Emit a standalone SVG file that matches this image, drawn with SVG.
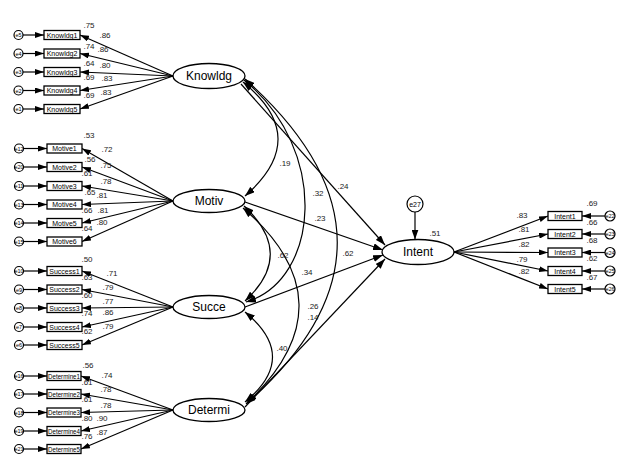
<svg xmlns="http://www.w3.org/2000/svg" width="627" height="470" viewBox="0 0 627 470">
<style>
.bg{fill:#fff}
.lat{fill:#fff;stroke:#000;stroke-width:1.3}
.box{fill:#fff;stroke:#000;stroke-width:1.3}
.err{fill:#fff;stroke:#000;stroke-width:1.2}
.ln{fill:none;stroke:#000;stroke-width:1.2}
.lt{font-family:"Liberation Sans",Arial,sans-serif;font-size:12px;text-anchor:middle;fill:#000}
.bt{font-family:"Liberation Sans",Arial,sans-serif;font-size:7px;text-anchor:middle;fill:#000}
.et{font-family:"Liberation Sans",Arial,sans-serif;font-size:5.5px;text-anchor:middle;fill:#000}
.nt{font-family:"Liberation Sans",Arial,sans-serif;font-size:8px;text-anchor:middle;fill:#222}
</style>
<defs>
<marker id="big" viewBox="0 0 10 7" refX="10" refY="3.5" markerWidth="10" markerHeight="7" markerUnits="userSpaceOnUse" orient="auto-start-reverse"><path d="M0,0 L10,3.5 L0,7 z" fill="#000"/></marker>
<marker id="sm" viewBox="0 0 9 6" refX="9" refY="3" markerWidth="9" markerHeight="6" markerUnits="userSpaceOnUse" orient="auto"><path d="M0,0 L9,3 L0,6 z" fill="#000"/></marker>
</defs>
<rect class="bg" x="0" y="0" width="627" height="470"/>

<g id="connectors">
<line class="ln" x1="173" y1="76" x2="80" y2="35" marker-end="url(#sm)"/>
<line class="ln" x1="173" y1="76" x2="80" y2="53.5" marker-end="url(#sm)"/>
<line class="ln" x1="173" y1="76" x2="80" y2="72" marker-end="url(#sm)"/>
<line class="ln" x1="173" y1="76" x2="80" y2="90.5" marker-end="url(#sm)"/>
<line class="ln" x1="173" y1="76" x2="80" y2="109" marker-end="url(#sm)"/>
<line class="ln" x1="173" y1="201" x2="82" y2="148.5" marker-end="url(#sm)"/>
<line class="ln" x1="173" y1="201" x2="82" y2="167" marker-end="url(#sm)"/>
<line class="ln" x1="173" y1="201" x2="82" y2="186" marker-end="url(#sm)"/>
<line class="ln" x1="173" y1="201" x2="82" y2="204.5" marker-end="url(#sm)"/>
<line class="ln" x1="173" y1="201" x2="82" y2="223" marker-end="url(#sm)"/>
<line class="ln" x1="173" y1="201" x2="82" y2="241.5" marker-end="url(#sm)"/>
<line class="ln" x1="173" y1="307" x2="82" y2="271" marker-end="url(#sm)"/>
<line class="ln" x1="173" y1="307" x2="82" y2="289.5" marker-end="url(#sm)"/>
<line class="ln" x1="173" y1="307" x2="82" y2="308" marker-end="url(#sm)"/>
<line class="ln" x1="173" y1="307" x2="82" y2="327" marker-end="url(#sm)"/>
<line class="ln" x1="173" y1="307" x2="82" y2="345" marker-end="url(#sm)"/>
<line class="ln" x1="173" y1="410" x2="81" y2="376" marker-end="url(#sm)"/>
<line class="ln" x1="173" y1="410" x2="81" y2="394" marker-end="url(#sm)"/>
<line class="ln" x1="173" y1="410" x2="81" y2="412.5" marker-end="url(#sm)"/>
<line class="ln" x1="173" y1="410" x2="81" y2="431" marker-end="url(#sm)"/>
<line class="ln" x1="173" y1="410" x2="81" y2="449" marker-end="url(#sm)"/>
<line class="ln" x1="454" y1="252" x2="548" y2="216" marker-end="url(#sm)"/>
<line class="ln" x1="454" y1="252" x2="548" y2="234" marker-end="url(#sm)"/>
<line class="ln" x1="454" y1="252" x2="548" y2="252.5" marker-end="url(#sm)"/>
<line class="ln" x1="454" y1="252" x2="548" y2="271" marker-end="url(#sm)"/>
<line class="ln" x1="454" y1="252" x2="548" y2="289" marker-end="url(#sm)"/>
<line class="ln" x1="23" y1="35" x2="44" y2="35" marker-end="url(#sm)"/>
<line class="ln" x1="23" y1="53.5" x2="44" y2="53.5" marker-end="url(#sm)"/>
<line class="ln" x1="23" y1="72" x2="44" y2="72" marker-end="url(#sm)"/>
<line class="ln" x1="23" y1="90.5" x2="44" y2="90.5" marker-end="url(#sm)"/>
<line class="ln" x1="23" y1="109" x2="44" y2="109" marker-end="url(#sm)"/>
<line class="ln" x1="24" y1="148.5" x2="47" y2="148.5" marker-end="url(#sm)"/>
<line class="ln" x1="24" y1="167" x2="47" y2="167" marker-end="url(#sm)"/>
<line class="ln" x1="24" y1="186" x2="47" y2="186" marker-end="url(#sm)"/>
<line class="ln" x1="24" y1="204.5" x2="47" y2="204.5" marker-end="url(#sm)"/>
<line class="ln" x1="24" y1="223" x2="47" y2="223" marker-end="url(#sm)"/>
<line class="ln" x1="24" y1="241.5" x2="47" y2="241.5" marker-end="url(#sm)"/>
<line class="ln" x1="24" y1="271" x2="47" y2="271" marker-end="url(#sm)"/>
<line class="ln" x1="24" y1="289.5" x2="47" y2="289.5" marker-end="url(#sm)"/>
<line class="ln" x1="24" y1="308" x2="47" y2="308" marker-end="url(#sm)"/>
<line class="ln" x1="24" y1="327" x2="47" y2="327" marker-end="url(#sm)"/>
<line class="ln" x1="24" y1="345" x2="47" y2="345" marker-end="url(#sm)"/>
<line class="ln" x1="24" y1="376" x2="47" y2="376" marker-end="url(#sm)"/>
<line class="ln" x1="24" y1="394" x2="47" y2="394" marker-end="url(#sm)"/>
<line class="ln" x1="24" y1="412.5" x2="47" y2="412.5" marker-end="url(#sm)"/>
<line class="ln" x1="24" y1="431" x2="47" y2="431" marker-end="url(#sm)"/>
<line class="ln" x1="24" y1="449" x2="47" y2="449" marker-end="url(#sm)"/>
<line class="ln" x1="605" y1="216" x2="582" y2="216" marker-end="url(#sm)"/>
<line class="ln" x1="605" y1="234" x2="582" y2="234" marker-end="url(#sm)"/>
<line class="ln" x1="605" y1="252.5" x2="582" y2="252.5" marker-end="url(#sm)"/>
<line class="ln" x1="605" y1="271" x2="582" y2="271" marker-end="url(#sm)"/>
<line class="ln" x1="605" y1="289" x2="582" y2="289" marker-end="url(#sm)"/>
<line class="ln" x1="415" y1="212" x2="415" y2="239.5" marker-end="url(#big)"/>
<line class="ln" x1="241" y1="84" x2="385" y2="245" marker-end="url(#big)"/>
<line class="ln" x1="245" y1="202" x2="383" y2="250" marker-end="url(#big)"/>
<line class="ln" x1="245" y1="307" x2="383" y2="255" marker-end="url(#big)"/>
<line class="ln" x1="245" y1="407" x2="385" y2="259" marker-end="url(#big)"/>
<path class="ln" d="M243,82 Q312,138 245,196" marker-start="url(#big)" marker-end="url(#big)"/>
<path class="ln" d="M244,80 C330,150 320,280 246,302" marker-start="url(#big)" marker-end="url(#big)"/>
<path class="ln" d="M245,79 Q429,243 246,404" marker-start="url(#big)" marker-end="url(#big)"/>
<path class="ln" d="M244,206 Q296,254 245,301" marker-start="url(#big)" marker-end="url(#big)"/>
<path class="ln" d="M243,208 Q353,303 247,403" marker-start="url(#big)" marker-end="url(#big)"/>
<path class="ln" d="M245,312 Q300,357 245,402" marker-start="url(#big)" marker-end="url(#big)"/>
</g>

<g id="Knowldg"><ellipse class="lat" cx="209" cy="76" rx="36" ry="12.5"/><text class="lt" x="209" y="80">Knowldg</text></g>
<g id="Motiv"><ellipse class="lat" cx="209" cy="201" rx="36" ry="11.5"/><text class="lt" x="209" y="205">Motiv</text></g>
<g id="Succe"><ellipse class="lat" cx="209" cy="307" rx="36" ry="11.5"/><text class="lt" x="209" y="311">Succe</text></g>
<g id="Determi"><ellipse class="lat" cx="209" cy="410" rx="36" ry="11.5"/><text class="lt" x="209" y="414">Determi</text></g>
<g id="Intent"><ellipse class="lat" cx="418" cy="252" rx="36" ry="12.5"/><text class="lt" x="418" y="256">Intent</text></g>
<g id="e27"><circle class="err" cx="415" cy="204" r="8"/><text class="bt" x="415" y="206.5">e27</text></g>

<g id="knowldg-indicators">
<rect class="box" x="44" y="30.5" width="36" height="9"/><text class="bt" x="62" y="37.5">Knowldg1</text>
<rect class="box" x="44" y="49" width="36" height="9"/><text class="bt" x="62" y="56">Knowldg2</text>
<rect class="box" x="44" y="67.5" width="36" height="9"/><text class="bt" x="62" y="74.5">Knowldg3</text>
<rect class="box" x="44" y="86" width="36" height="9"/><text class="bt" x="62" y="93">Knowldg4</text>
<rect class="box" x="44" y="104.5" width="36" height="9"/><text class="bt" x="62" y="111.5">Knowldg5</text>
<circle class="err" cx="18.5" cy="35" r="4.5"/><text class="et" x="18.5" y="37">e5</text>
<circle class="err" cx="18.5" cy="53.5" r="4.5"/><text class="et" x="18.5" y="55.5">e4</text>
<circle class="err" cx="18.5" cy="72" r="4.5"/><text class="et" x="18.5" y="74">e3</text>
<circle class="err" cx="18.5" cy="90.5" r="4.5"/><text class="et" x="18.5" y="92.5">e2</text>
<circle class="err" cx="18.5" cy="109" r="4.5"/><text class="et" x="18.5" y="111">e1</text>
</g>

<g id="motiv-indicators">
<rect class="box" x="47" y="144" width="35" height="9"/><text class="bt" x="64.5" y="151">Motive1</text>
<rect class="box" x="47" y="162.5" width="35" height="9"/><text class="bt" x="64.5" y="169.5">Motive2</text>
<rect class="box" x="47" y="181.5" width="35" height="9"/><text class="bt" x="64.5" y="188.5">Motive3</text>
<rect class="box" x="47" y="200" width="35" height="9"/><text class="bt" x="64.5" y="207">Motive4</text>
<rect class="box" x="47" y="218.5" width="35" height="9"/><text class="bt" x="64.5" y="225.5">Motive5</text>
<rect class="box" x="47" y="237" width="35" height="9"/><text class="bt" x="64.5" y="244">Motive6</text>
<circle class="err" cx="19" cy="148.5" r="4.5"/><text class="et" x="19" y="150.5">e12</text>
<circle class="err" cx="19" cy="167" r="4.5"/><text class="et" x="19" y="169">e20</text>
<circle class="err" cx="19" cy="186" r="4.5"/><text class="et" x="19" y="188">e11</text>
<circle class="err" cx="19" cy="204.5" r="4.5"/><text class="et" x="19" y="206.5">e13</text>
<circle class="err" cx="19" cy="223" r="4.5"/><text class="et" x="19" y="225">e14</text>
<circle class="err" cx="19" cy="241.5" r="4.5"/><text class="et" x="19" y="243.5">e15</text>
</g>

<g id="succe-indicators">
<rect class="box" x="47" y="266.5" width="35" height="9"/><text class="bt" x="64.5" y="273.5">Success1</text>
<rect class="box" x="47" y="285" width="35" height="9"/><text class="bt" x="64.5" y="292">Success2</text>
<rect class="box" x="47" y="303.5" width="35" height="9"/><text class="bt" x="64.5" y="310.5">Success3</text>
<rect class="box" x="47" y="322.5" width="35" height="9"/><text class="bt" x="64.5" y="329.5">Success4</text>
<rect class="box" x="47" y="340.5" width="35" height="9"/><text class="bt" x="64.5" y="347.5">Success5</text>
<circle class="err" cx="19" cy="271" r="4.5"/><text class="et" x="19" y="273">e10</text>
<circle class="err" cx="19" cy="289.5" r="4.5"/><text class="et" x="19" y="291.5">e9</text>
<circle class="err" cx="19" cy="308" r="4.5"/><text class="et" x="19" y="310">e8</text>
<circle class="err" cx="19" cy="327" r="4.5"/><text class="et" x="19" y="329">e7</text>
<circle class="err" cx="19" cy="345" r="4.5"/><text class="et" x="19" y="347">e6</text>
</g>

<g id="determi-indicators">
<rect class="box" x="47" y="371.5" width="34" height="9"/><text class="bt" x="64" y="378.5" textLength="32" lengthAdjust="spacingAndGlyphs">Determine1</text>
<rect class="box" x="47" y="389.5" width="34" height="9"/><text class="bt" x="64" y="396.5" textLength="32" lengthAdjust="spacingAndGlyphs">Determine2</text>
<rect class="box" x="47" y="408" width="34" height="9"/><text class="bt" x="64" y="415" textLength="32" lengthAdjust="spacingAndGlyphs">Determine3</text>
<rect class="box" x="47" y="426.5" width="34" height="9"/><text class="bt" x="64" y="433.5" textLength="32" lengthAdjust="spacingAndGlyphs">Determine4</text>
<rect class="box" x="47" y="444.5" width="34" height="9"/><text class="bt" x="64" y="451.5" textLength="32" lengthAdjust="spacingAndGlyphs">Determine5</text>
<circle class="err" cx="19" cy="376" r="4.5"/><text class="et" x="19" y="378">e16</text>
<circle class="err" cx="19" cy="394" r="4.5"/><text class="et" x="19" y="396">e17</text>
<circle class="err" cx="19" cy="412.5" r="4.5"/><text class="et" x="19" y="414.5">e18</text>
<circle class="err" cx="19" cy="431" r="4.5"/><text class="et" x="19" y="433">e19</text>
<circle class="err" cx="19" cy="449" r="4.5"/><text class="et" x="19" y="451">e21</text>
</g>

<g id="intent-indicators">
<rect class="box" x="548" y="211.5" width="34" height="9"/><text class="bt" x="565" y="218.5">Intent1</text>
<rect class="box" x="548" y="229.5" width="34" height="9"/><text class="bt" x="565" y="236.5">Intent2</text>
<rect class="box" x="548" y="248" width="34" height="9"/><text class="bt" x="565" y="255">Intent3</text>
<rect class="box" x="548" y="266.5" width="34" height="9"/><text class="bt" x="565" y="273.5">Intent4</text>
<rect class="box" x="548" y="284.5" width="34" height="9"/><text class="bt" x="565" y="291.5">Intent5</text>
<circle class="err" cx="610" cy="216" r="5"/><text class="et" x="610" y="218">e22</text>
<circle class="err" cx="610" cy="234" r="5"/><text class="et" x="610" y="236">e23</text>
<circle class="err" cx="610" cy="252.5" r="5"/><text class="et" x="610" y="254.5">e24</text>
<circle class="err" cx="610" cy="271" r="5"/><text class="et" x="610" y="273">e25</text>
<circle class="err" cx="610" cy="289" r="5"/><text class="et" x="610" y="291">e26</text>
</g>

<g id="estimates">
<text class="nt" x="89" y="28">.75</text><text class="nt" x="105" y="38">.86</text>
<text class="nt" x="89" y="49">.74</text><text class="nt" x="103" y="52">.86</text>
<text class="nt" x="89" y="66">.64</text><text class="nt" x="105" y="68">.80</text>
<text class="nt" x="89" y="80">.69</text><text class="nt" x="107" y="81">.83</text>
<text class="nt" x="89" y="98">.69</text><text class="nt" x="106" y="95">.83</text>

<text class="nt" x="89" y="138">.53</text><text class="nt" x="107" y="152">.72</text>
<text class="nt" x="90" y="162">.56</text><text class="nt" x="106" y="168">.75</text>
<text class="nt" x="87" y="176">.61</text><text class="nt" x="106" y="184">.78</text>
<text class="nt" x="90" y="195">.65</text><text class="nt" x="102" y="198">.81</text>
<text class="nt" x="87" y="213">.66</text><text class="nt" x="103" y="213">.81</text>
<text class="nt" x="87" y="231">.64</text><text class="nt" x="102" y="225">.80</text>

<text class="nt" x="87" y="262">.50</text><text class="nt" x="112" y="276">.71</text>
<text class="nt" x="87" y="280">.63</text><text class="nt" x="108" y="290">.79</text>
<text class="nt" x="87" y="298">.60</text><text class="nt" x="108" y="304">.77</text>
<text class="nt" x="87" y="316">.74</text><text class="nt" x="108" y="315">.86</text>
<text class="nt" x="87" y="334">.62</text><text class="nt" x="108" y="329">.79</text>

<text class="nt" x="88" y="368">.56</text><text class="nt" x="107" y="378">.74</text>
<text class="nt" x="87" y="385">.61</text><text class="nt" x="106" y="392">.78</text>
<text class="nt" x="87" y="402">.61</text><text class="nt" x="106" y="408">.78</text>
<text class="nt" x="87" y="421">.80</text><text class="nt" x="102" y="421">.90</text>
<text class="nt" x="87" y="439">.76</text><text class="nt" x="102" y="435">.87</text>

<text class="nt" x="592" y="206">.69</text><text class="nt" x="522" y="218">.83</text>
<text class="nt" x="592" y="225">.66</text><text class="nt" x="524" y="232">.81</text>
<text class="nt" x="592" y="243">.68</text><text class="nt" x="524" y="247">.82</text>
<text class="nt" x="592" y="261">.62</text><text class="nt" x="522" y="262">.79</text>
<text class="nt" x="592" y="280">.67</text><text class="nt" x="524" y="274">.82</text>
<text class="nt" x="435" y="236">.51</text>

<text class="nt" x="285" y="166">.19</text>
<text class="nt" x="318" y="196">.32</text>
<text class="nt" x="343" y="189">.24</text>
<text class="nt" x="320" y="221">.23</text>
<text class="nt" x="348" y="256">.62</text>
<text class="nt" x="283" y="258">.62</text>
<text class="nt" x="307" y="275">.34</text>
<text class="nt" x="313" y="309">.26</text>
<text class="nt" x="313" y="320">.14</text>
<text class="nt" x="282" y="351">.40</text>
</g>
</svg>
